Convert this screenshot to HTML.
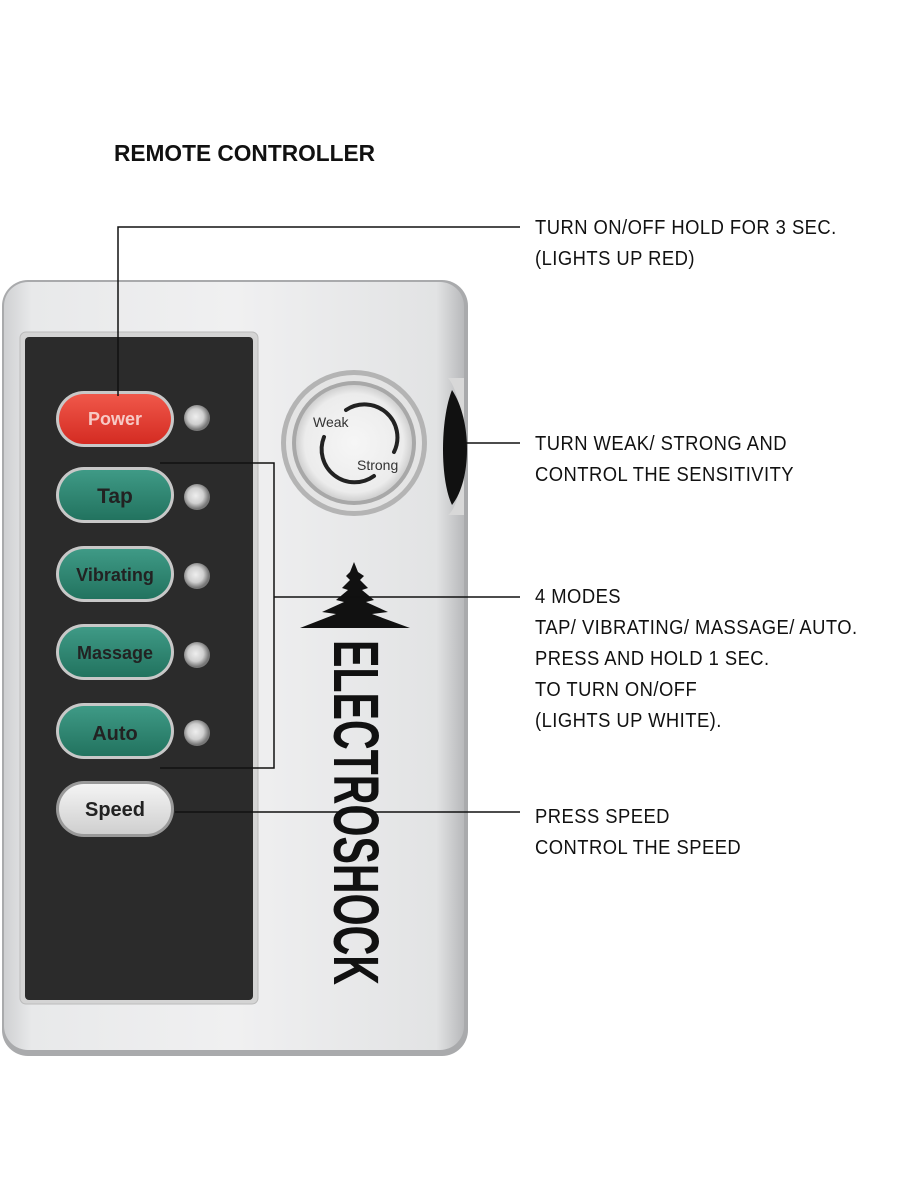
<!DOCTYPE html>
<html><head><meta charset="utf-8"><style>
html,body{margin:0;padding:0;background:#fff;}
body{width:901px;height:1200px;position:relative;overflow:hidden;font-family:"Liberation Sans",sans-serif;}
.lbl{position:absolute;left:535px;font-size:20px;line-height:31px;color:#111;letter-spacing:0.5px;transform:scaleX(0.92);transform-origin:left;}
</style></head><body>
<svg width="901" height="1200" style="position:absolute;left:0;top:0">
<defs>
<linearGradient id="body" x1="0" y1="0" x2="1" y2="0">
<stop offset="0" stop-color="#cfd0d2"/><stop offset="0.06" stop-color="#e8e9ea"/><stop offset="0.5" stop-color="#f0f0f1"/><stop offset="0.94" stop-color="#e2e3e4"/><stop offset="1" stop-color="#b8b9bb"/>
</linearGradient>
<radialGradient id="dial" cx="0.5" cy="0.5" r="0.5"><stop offset="0" stop-color="#f6f6f6"/><stop offset="0.85" stop-color="#ececec"/><stop offset="1" stop-color="#d0d0d0"/></radialGradient>
<radialGradient id="led" cx="0.45" cy="0.45" r="0.5"><stop offset="0" stop-color="#eee"/><stop offset="0.6" stop-color="#cfcfcf"/><stop offset="1" stop-color="#777"/></radialGradient>
<linearGradient id="red" x1="0" y1="0" x2="0" y2="1"><stop offset="0" stop-color="#f0584a"/><stop offset="1" stop-color="#d42b22"/></linearGradient>
<linearGradient id="teal" x1="0" y1="0" x2="0" y2="1"><stop offset="0" stop-color="#3f9a86"/><stop offset="1" stop-color="#22735f"/></linearGradient>
<linearGradient id="wht" x1="0" y1="0" x2="0" y2="1"><stop offset="0" stop-color="#f4f4f4"/><stop offset="1" stop-color="#cfcfcf"/></linearGradient>
</defs>
<text x="114" y="161" font-size="23" font-family="Liberation Sans" font-weight="600" fill="#111" textLength="261" lengthAdjust="spacingAndGlyphs">REMOTE CONTROLLER</text>
<rect x="2" y="280" width="466" height="776" rx="26" fill="#a9aaac"/>
<rect x="4" y="282" width="460" height="768" rx="24" fill="url(#body)"/>
<path d="M448 378 C468 400 468 500 448 515 L464 515 L464 378 Z" fill="#d8d8d8"/>
<path d="M452 390 C472 420 472 480 452 505 C440 480 440 420 452 390 Z" fill="#111"/>
<rect x="20" y="332" width="238" height="672" rx="6" fill="#d4d4d4" stroke="#bbb"/>
<rect x="25" y="337" width="228" height="663" rx="4" fill="#2b2b2b"/>
<g font-family="Liberation Sans" font-weight="bold" text-anchor="middle">
<rect x="56" y="391" width="118" height="56" rx="28" fill="#c8c8c8"/>
<rect x="59" y="394" width="112" height="50" rx="25" fill="url(#red)"/>
<text x="115" y="425" font-size="18" fill="#f7c9c5">Power</text>
<rect x="56" y="467" width="118" height="56" rx="28" fill="#c8c8c8"/>
<rect x="59" y="470" width="112" height="50" rx="25" fill="url(#teal)"/>
<text x="115" y="503" font-size="21" fill="#222">Tap</text>
<rect x="56" y="546" width="118" height="56" rx="28" fill="#c8c8c8"/>
<rect x="59" y="549" width="112" height="50" rx="25" fill="url(#teal)"/>
<text x="115" y="581" font-size="18" fill="#222">Vibrating</text>
<rect x="56" y="624" width="118" height="56" rx="28" fill="#c8c8c8"/>
<rect x="59" y="627" width="112" height="50" rx="25" fill="url(#teal)"/>
<text x="115" y="659" font-size="18" fill="#222">Massage</text>
<rect x="56" y="703" width="118" height="56" rx="28" fill="#c8c8c8"/>
<rect x="59" y="706" width="112" height="50" rx="25" fill="url(#teal)"/>
<text x="115" y="740" font-size="20" fill="#222">Auto</text>
<rect x="56" y="781" width="118" height="56" rx="28" fill="#999"/>
<rect x="59" y="784" width="112" height="50" rx="25" fill="url(#wht)"/>
<text x="115" y="816" font-size="20" fill="#222">Speed</text>
</g>
<g>
<circle cx="197" cy="418" r="13" fill="url(#led)"/>
<circle cx="197" cy="497" r="13" fill="url(#led)"/>
<circle cx="197" cy="576" r="13" fill="url(#led)"/>
<circle cx="197" cy="655" r="13" fill="url(#led)"/>
<circle cx="197" cy="733" r="13" fill="url(#led)"/>
</g>
<circle cx="354" cy="443" r="73" fill="#b4b4b4"/>
<circle cx="354" cy="443" r="68" fill="#e4e4e4"/>
<circle cx="354" cy="443" r="62" fill="#a8a8a8"/>
<circle cx="354" cy="443" r="58" fill="url(#dial)"/>
<g stroke="#222" stroke-width="4" fill="none" stroke-linecap="round">
<path d="M346 410 A33 33 0 0 1 394 452"/>
<path d="M324 437 A33 33 0 0 0 374 476"/>
</g>
<text x="313" y="427" font-size="14" font-family="Liberation Sans" fill="#333">Weak</text>
<text x="357" y="470" font-size="14" font-family="Liberation Sans" fill="#333">Strong</text>
<path d="M354 562 L358 572 L364 576 L360 580 L368 588 L362 590 L374 600 L366 602 L388 612 L372 614 L410 628 L300 628 L336 614 L322 612 L344 602 L336 600 L348 590 L342 588 L350 580 L346 576 L350 572 Z" fill="#111"/>
<text transform="translate(332,640) rotate(90)" font-size="64" font-family="Liberation Sans" font-weight="bold" fill="#111" textLength="345" lengthAdjust="spacingAndGlyphs" y="-2">ELECTROSHOCK</text>
<g stroke="#111" stroke-width="1.5" fill="none">
<polyline points="118,396 118,227 520,227"/>
<line x1="465" y1="443" x2="520" y2="443"/>
<polyline points="160,463 274,463 274,768 160,768"/>
<line x1="274" y1="597" x2="520" y2="597"/>
<line x1="175" y1="812" x2="520" y2="812"/>
</g>
</svg>
<div class="lbl" style="top:213px">TURN ON/OFF HOLD FOR 3 SEC.<br>(LIGHTS UP RED)</div>
<div class="lbl" style="top:429px">TURN WEAK/ STRONG AND<br>CONTROL THE SENSITIVITY</div>
<div class="lbl" style="top:582px">4 MODES<br>TAP/ VIBRATING/ MASSAGE/ AUTO.<br>PRESS AND HOLD 1 SEC.<br>TO TURN ON/OFF<br>(LIGHTS UP WHITE).</div>
<div class="lbl" style="top:802px">PRESS SPEED<br>CONTROL THE SPEED</div>
</body></html>
